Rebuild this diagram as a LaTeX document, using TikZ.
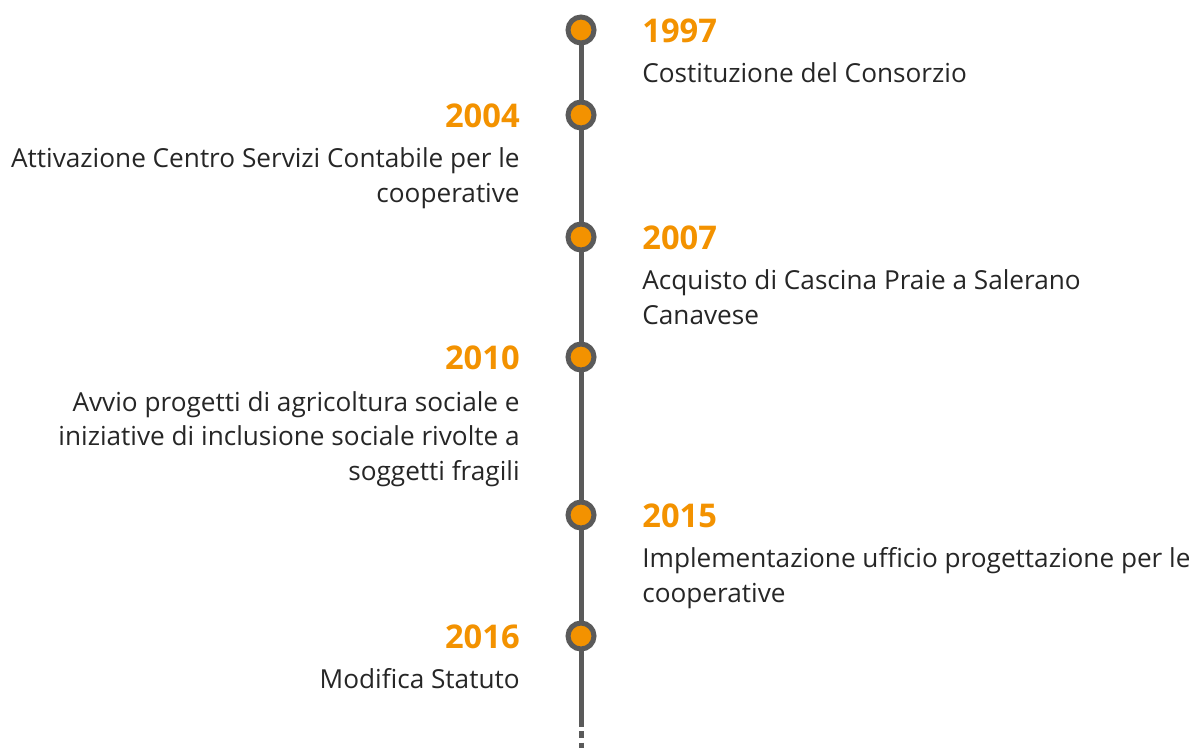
\documentclass[tikz,border=0pt]{standalone}
\usepackage{fontspec}
\setmainfont{Open Sans}
\usetikzlibrary{positioning}
\definecolor{tlorange}{HTML}{F39200}
\definecolor{tlgray}{HTML}{5A5A5A}
\definecolor{tltext}{HTML}{262626}

\tikzset{
  dot/.style={circle, draw=tlgray, fill=tlorange, line width=2.85pt,
    minimum size=0.52cm, inner sep=0pt},
  year/.style={text=tlorange, font=\fontsize{18.6}{22}\selectfont\bfseries, inner sep=0pt},
  desc/.style={text=tltext, font=\fontsize{14.9}{19.6}\selectfont, inner sep=0pt},
  axis/.style={draw=tlgray, line width=2.85pt}
}

\begin{document}
\begin{tikzpicture}[x=0.02cm, y=-0.02cm]
  \useasboundingbox (0,0) rectangle (1189,748);
  % timeline
  \coordinate (top) at (581,30);
  \coordinate (solidend) at (581,720);
  \coordinate (bottom) at (581,748);
  \draw [axis] (top) -- (solidend);
  \draw [axis, dash pattern=on 4pt off 2.4pt] (solidend) -- (bottom);
  % dots
  \node [dot] (c1) at (581,30) {};
  \node [dot] (c2) at (581,115) {};
  \node [dot] (c3) at (581,237) {};
  \node [dot] (c4) at (581,357) {};
  \node [dot] (c5) at (581,515) {};
  \node [dot] (c6) at (581,636) {};
  % years
  \node [year, anchor=base west] (y1) at (642,42) {1997};
  \node [year, anchor=base east] (y2) at (520,127) {2004};
  \node [year, anchor=base west] (y3) at (642,249) {2007};
  \node [year, anchor=base east] (y4) at (520,369) {2010};
  \node [year, anchor=base west] (y5) at (642,527) {2015};
  \node [year, anchor=base east] (y6) at (520,648) {2016};
  % texts (base = last line)
  \node [desc, align=left, anchor=base west] (t1) at (642,82) {Costituzione del Consorzio};
  \node [desc, align=right, anchor=base east] (t2) at (520,202) {Attivazione Centro Servizi Contabile per le\\cooperative};
  \node [desc, align=left, anchor=base west] (t3) at (642,324) {Acquisto di Cascina Praie a Salerano\\Canavese};
  \node [desc, align=right, anchor=base east] (t4) at (520,480) {Avvio progetti di agricoltura sociale e\\iniziative di inclusione sociale rivolte a\\soggetti fragili};
  \node [desc, align=left, anchor=base west] (t5) at (642,602) {Implementazione ufficio progettazione per le\\cooperative};
  \node [desc, align=right, anchor=base east] (t6) at (520,688) {Modifica Statuto};
\end{tikzpicture}
\end{document}
